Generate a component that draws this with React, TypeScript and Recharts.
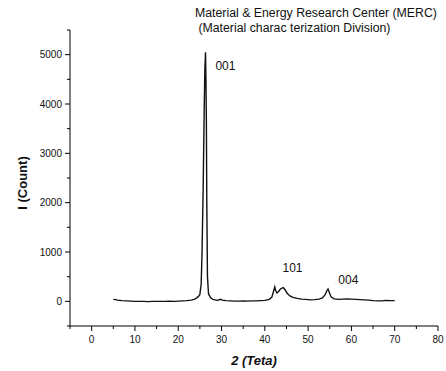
import React from 'react';
import { LineChart, Line, XAxis, YAxis, ReferenceDot } from 'recharts';

// 2θ positions (degrees) and counts
const twoTheta = [
  5, 5.5, 6, 7, 8, 9, 10, 11, 12, 13,
  14, 15, 16, 17, 18, 19, 20, 21, 22, 23,
  23.7, 24.3, 24.7, 25.0, 25.3, 25.5, 25.75, 26.0, 26.15, 26.3,
  26.4, 26.5, 26.6, 26.75, 27.0, 27.5, 28, 29, 29.8, 30.2,
  31, 32, 33, 34, 35, 36, 37, 38, 39, 40,
  41, 41.6, 42.0, 42.3, 42.5, 42.8, 43.2, 43.6, 44.0, 44.3,
  44.7, 45.2, 45.8, 46.5, 47.5, 48.5, 49.5, 50.5, 51.5, 52.5,
  53.3, 53.9, 54.3, 54.6, 54.9, 55.3, 56, 57, 58, 59,
  60, 61, 62, 63, 64, 65, 66, 67, 68, 69,
  70,
];

const counts = [
  40, 35, 25, 15, 10, 5, 0, 0, 0, -5,
  0, 0, 0, 0, 5, 0, 5, 10, 15, 25,
  40, 70, 100, 140, 350, 1000, 2240, 3900, 4700, 5050,
  4500, 3650, 2000, 500, 150, 70, 40, 20, 40, 25,
  15, 10, 5, 5, 10, 5, 10, 10, 15, 20,
  40, 80, 200, 290, 220, 170, 200, 250, 270, 280,
  230, 160, 110, 80, 60, 45, 40, 30, 35, 45,
  70, 130, 210, 250, 180, 90, 50, 40, 45, 50,
  45, 40, 35, 30, 25, 15, 10, 10, 20, 15,
  15,
];

const xTicks = [-5, 0, 5, 10, 15, 20, 25, 30, 35, 40, 45, 50, 55, 60, 65, 70, 75, 80];
const yTicks = [-500, 0, 500, 1000, 1500, 2000, 2500, 3000, 3500, 4000, 4500, 5000, 5500];

const peakLabels = [
  { name: '001', x: 30.9, y: 4770 },
  { name: '101', x: 46.4, y: 690 },
  { name: '004', x: 59.3, y: 430 },
];

const data = twoTheta.map((t, i) => ({ t, count: counts[i] }));

const FONT = '"Liberation Sans", Arial, sans-serif';

const YTick = (props: any) => {
  const { x, y, payload } = props;
  const major = payload.value % 1000 === 0;
  return (
    <g>
      <line x1={x - (major ? 5 : 3)} x2={x} y1={y} y2={y} stroke="#000" />
      {major && (
        <text x={x - 8} y={y} dy="0.35em" textAnchor="end" fontSize={10} fontFamily={FONT} fill="#111">
          {payload.value}
        </text>
      )}
    </g>
  );
};

const XTick = (props: any) => {
  const { x, y, payload } = props;
  const major = payload.value % 10 === 0;
  return (
    <g>
      <line x1={x} x2={x} y1={y} y2={y + (major ? 5 : 3)} stroke="#000" />
      {major && (
        <text x={x} y={y + 17} textAnchor="middle" fontSize={10} fontFamily={FONT} fill="#111">
          {payload.value}
        </text>
      )}
    </g>
  );
};

const YTitle = (props: any) => {
  const { viewBox } = props;
  const cx = viewBox.x + 14;
  const cy = viewBox.y + viewBox.height / 2 + 5;
  return (
    <text
      x={cx}
      y={cy}
      transform={`rotate(-90, ${cx}, ${cy})`}
      textAnchor="middle"
      dominantBaseline="central"
      fontSize={13}
      fontWeight="bold"
      fontFamily={FONT}
      fill="#111"
    >
      I (Count)
    </text>
  );
};

export default function App() {
  return (
    <div style={{ position: 'absolute', left: 0, top: 0, width: 446, height: 371, background: '#fff' }}>
      <div
        style={{
          position: 'absolute',
          left: 195,
          top: 6,
          fontFamily: FONT,
          fontSize: 12.3,
          lineHeight: '15px',
          color: '#111',
          whiteSpace: 'pre',
        }}
      >
        {'Material & Energy Research Center (MERC)\n (Material charac terization Division)'}
      </div>
      <LineChart width={446} height={371} data={data} margin={{ top: 30, right: 8, bottom: 1, left: 8 }}>
        <XAxis
          type="number"
          dataKey="t"
          domain={[-5, 80]}
          ticks={xTicks}
          interval={0}
          height={44}
          tickSize={0}
          tickMargin={0}
          tickLine={false}
          tick={<XTick />}
          stroke="#000"
          allowDataOverflow
          label={{
            value: '2 (Teta)',
            position: 'insideBottom',
            offset: 5,
            fontSize: 13,
            fontWeight: 'bold',
            fontStyle: 'italic',
            fontFamily: FONT,
            fill: '#111',
          }}
        />
        <YAxis
          type="number"
          domain={[-500, 5500]}
          ticks={yTicks}
          interval={0}
          width={62}
          tickSize={0}
          tickMargin={0}
          tickLine={false}
          tick={<YTick />}
          stroke="#000"
          allowDataOverflow
          label={<YTitle />}
        />
        <Line
          type="linear"
          dataKey="count"
          stroke="#111"
          strokeWidth={1.4}
          dot={false}
          isAnimationActive={false}
        />
        {peakLabels.map((p) => (
          <ReferenceDot
            key={p.name}
            x={p.x}
            y={p.y}
            r={0}
            fill="none"
            stroke="none"
            label={{ value: p.name, position: 'center', fontSize: 12, fontFamily: FONT, fill: '#111' }}
          />
        ))}
      </LineChart>
    </div>
  );
}
